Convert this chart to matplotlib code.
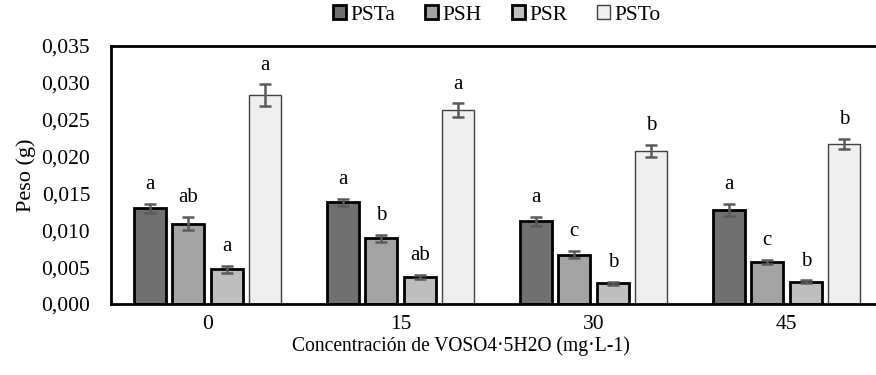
import matplotlib
matplotlib.use("Agg")
import matplotlib.pyplot as plt
import numpy as np
from matplotlib.ticker import FuncFormatter

categories = ["0", "15", "30", "45"]
series = ["PSTa", "PSH", "PSR", "PSTo"]
psta = [0.0130, 0.0138, 0.0112, 0.0128]
psh = [0.0109, 0.0089, 0.0067, 0.0057]
psr = [0.0047, 0.0037, 0.0028, 0.0030]
psto = [0.0283, 0.0263, 0.0208, 0.0217]
psta_err = [0.0006, 0.0005, 0.0006, 0.0008]
psh_err = [0.0009, 0.0005, 0.0005, 0.0003]
psr_err = [0.0005, 0.0003, 0.0002, 0.0002]
psto_err = [0.0015, 0.0009, 0.0008, 0.0007]
psta_lbl = ["a", "a", "a", "a"]
psh_lbl = ["ab", "b", "c", "c"]
psr_lbl = ["a", "ab", "b", "b"]
psto_lbl = ["a", "a", "b", "b"]

plt.rcParams['font.family'] = ['Liberation Serif', 'DejaVu Serif']

values = [psta, psh, psr, psto]
errors = [psta_err, psh_err, psr_err, psto_err]
letters = [psta_lbl, psh_lbl, psr_lbl, psto_lbl]
colors = ["#707070", "#a3a3a3", "#bebebe", "#efefef"]
edges = ["black", "black", "black", "#404040"]
lws = [2.0, 2.0, 2.0, 1.0]

fig = plt.figure(figsize=(8.76, 3.75), dpi=100)
W, H = 876, 375
ax = fig.add_axes([111 / W, (H - 304) / H, 772 / W, 258 / H])

x = np.arange(len(categories))
bw = 0.165
offs = [-0.3, -0.1, 0.1, 0.3]
for i in range(4):
    ax.bar(x + offs[i], values[i], bw, color=colors[i], edgecolor=edges[i],
           linewidth=lws[i], label=series[i], zorder=2)
    ax.errorbar(x + offs[i], values[i], yerr=errors[i], fmt="none",
                ecolor="#5a5a5a", elinewidth=1.8, capsize=4, capthick=1.8, zorder=3)
    for j in range(len(categories)):
        ax.text(x[j] + offs[i], values[i][j] + errors[i][j] + 0.0013, letters[i][j],
                ha="center", va="bottom", fontsize=15)

ax.set_xlim(-0.5, 3.5)
ax.set_ylim(0, 0.035)
ax.set_yticks(np.arange(0, 0.0351, 0.005))
ax.yaxis.set_major_formatter(FuncFormatter(lambda v, p: f"{v:.3f}".replace(".", ",")))
ax.set_xticks(x)
ax.set_xticklabels(categories)
ax.tick_params(axis="both", length=0, labelsize=15.5)
ax.tick_params(axis="x", pad=8)
ax.tick_params(axis="y", pad=15)
for s in ax.spines.values():
    s.set_linewidth(2)
ax.set_ylabel("Peso (g)", fontsize=16, labelpad=4)
ax.set_xlabel("Concentración de VOSO4·5H2O (mg·L-1)", fontsize=14.1, labelpad=3)
ax.xaxis.set_label_coords((461 - 111) / 772, -0.125)
ax.xaxis.label.set_va("top")

handles, labels = ax.get_legend_handles_labels()
fig.legend(handles, labels, loc="center", bbox_to_anchor=(497 / W, (H - 15) / H),
           ncol=4, frameon=False, fontsize=15.5, handlelength=0.6, handleheight=0.6,
           handletextpad=0.2, columnspacing=1.4)

fig.savefig("out.png", dpi=100)
